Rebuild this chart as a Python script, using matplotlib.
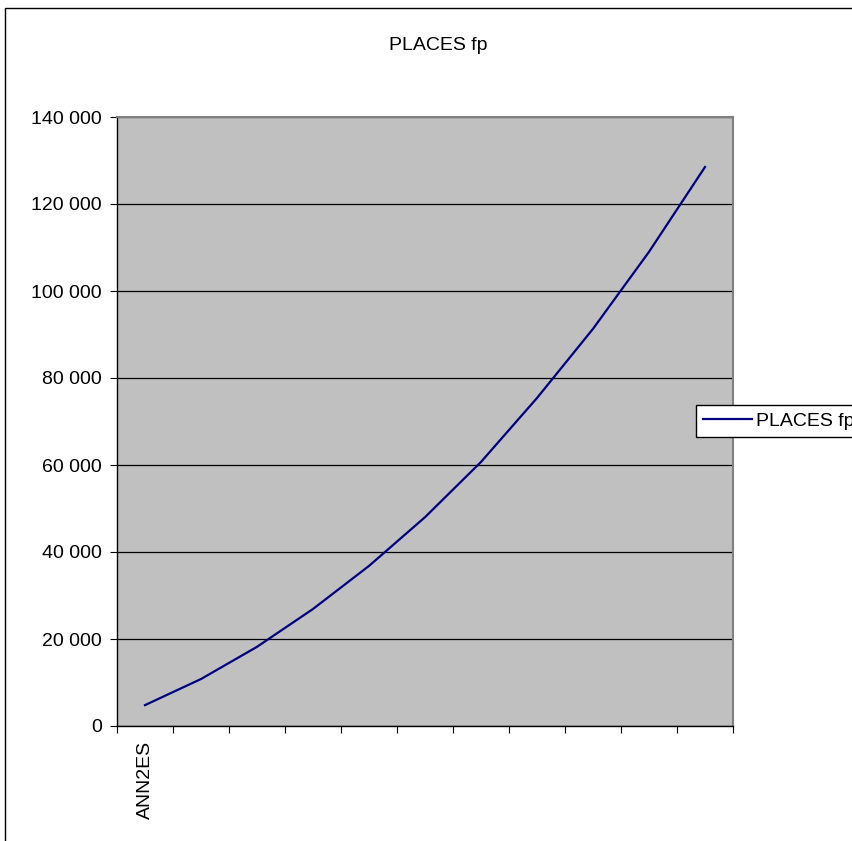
import numpy as np
import matplotlib.pyplot as plt
from matplotlib.patches import Rectangle
from matplotlib.ticker import FuncFormatter

plt.rcParams['font.family'] = ['Liberation Sans', 'DejaVu Sans']

# donnees
categories = ['ANN2ES', '', '', '', '', '', '', '', '', '', '']
places = [4800, 10800, 18200, 26900, 36800, 48000, 60700, 75400, 91300, 109000, 128500]

fig = plt.figure(figsize=(8.52, 8.41), dpi=100)
ax = fig.add_axes([117/852, 1-726/841, 616/852, 609/841])

# cadre exterieur
fig.patches.append(Rectangle((5/852, -0.1), 1.2, 1-8/841+0.1, transform=fig.transFigure,
                             fill=False, edgecolor='black', linewidth=1, clip_on=False))

x = np.arange(len(places))
ax.plot(x, places, color='#000080', linewidth=1.6, label='PLACES fp')

ax.set_facecolor('#c0c0c0')
ax.set_xlim(-0.5, len(places) - 0.5)
ax.set_ylim(0, 140000)
ax.set_yticks(np.arange(0, 140001, 20000))
ax.yaxis.set_major_formatter(FuncFormatter(lambda v, p: f'{int(v):,}'.replace(',', ' ')))
ax.grid(axis='y', color='black', linewidth=0.9)
ax.set_axisbelow(True)

ax.set_xticks(np.arange(-0.5, len(places), 1.0))
ax.set_xticklabels([])
ax.set_xticks(x, minor=True)
ax.set_xticklabels(categories, minor=True, rotation=90)
ax.tick_params(axis='x', which='minor', length=0, pad=11, labelsize=14)
ax.tick_params(axis='x', which='major', length=5, direction='out')
ax.tick_params(axis='y', length=5, direction='out', labelsize=14, pad=6)

for s in ['top', 'right']:
    ax.spines[s].set_color('#808080')
    ax.spines[s].set_linewidth(1.5)
for s in ['left', 'bottom']:
    ax.spines[s].set_color('black')
    ax.spines[s].set_linewidth(1)

fig.text(438/852, 1-45/841, 'PLACES fp', ha='center', va='center', fontsize=14)

leg = fig.legend(loc='upper left', bbox_to_anchor=(696/852, 1-405/841), fontsize=14,
                 fancybox=False, edgecolor='black', framealpha=1, borderpad=0.38,
                 handlelength=2.5, handletextpad=0.2, borderaxespad=0)
leg.get_frame().set_linewidth(1)

fig.savefig('out.png', dpi=100)
